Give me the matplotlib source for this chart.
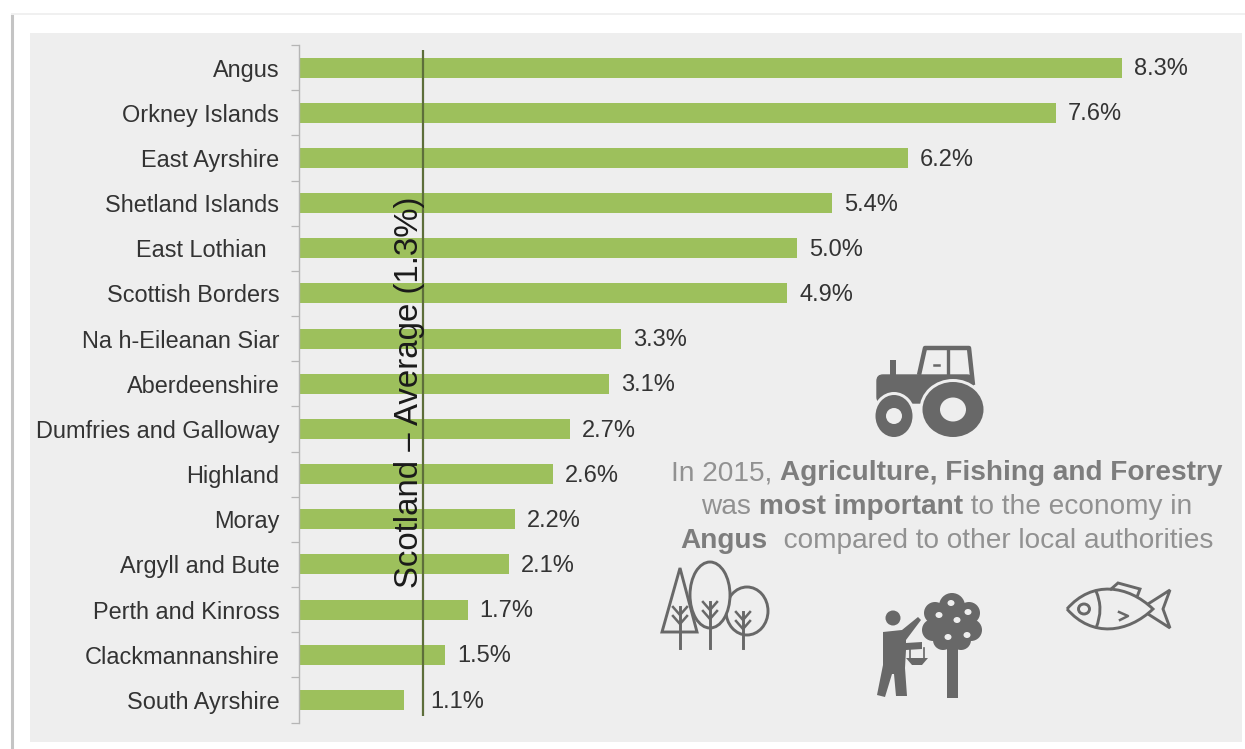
import matplotlib
matplotlib.use('Agg')
import matplotlib.pyplot as plt
from matplotlib.patches import Ellipse, Polygon, PathPatch, Rectangle, FancyBboxPatch
from matplotlib.path import Path

plt.rcParams['font.family'] = ['Liberation Sans', 'DejaVu Sans']

areas = ['Angus', 'Orkney Islands', 'East Ayrshire', 'Shetland Islands', 'East Lothian  ',
         'Scottish Borders', 'Na h-Eileanan Siar', 'Aberdeenshire', 'Dumfries and Galloway',
         'Highland', 'Moray', 'Argyll and Bute', 'Perth and Kinross', 'Clackmannanshire',
         'South Ayrshire']
# bar lengths as measured, the printed labels are rounded
shares = [8.3, 7.63, 6.14, 5.37, 5.02, 4.92, 3.25, 3.13, 2.73, 2.56, 2.18, 2.12, 1.70, 1.47, 1.06]
share_labels = ['8.3%', '7.6%', '6.2%', '5.4%', '5.0%', '4.9%', '3.3%', '3.1%', '2.7%', '2.6%',
                '2.2%', '2.1%', '1.7%', '1.5%', '1.1%']
scotland_avg = 1.25
avg_label = 'Scotland – Average (1.3%)'

W, H = 1245, 749
GREEN = '#9dc05c'
TEXT = '#333333'
ICON = '#686868'
PANEL = '#eeeeee'
PX_PER_UNIT = 99.2

fig = plt.figure(figsize=(W / 100, H / 100), dpi=100, facecolor='white')

# background layer in pixel coordinates
bg = fig.add_axes([0, 0, 1, 1], zorder=0)
bg.set_xlim(0, W)
bg.set_ylim(H, 0)
bg.axis('off')
bg.add_patch(Rectangle((30, 33), 1212, 709, fc=PANEL, ec='none'))
bg.plot([12, 12], [14, H], color='#c4c4c4', lw=2.2, solid_capstyle='butt')
bg.plot([12, W], [14, 14], color='#f0f0f0', lw=1.4)

# chart
left, right, top, bottom = 299, 1199, 45, 722.5
ax = fig.add_axes([left / W, 1 - bottom / H, (right - left) / W, (bottom - top) / H], zorder=1)
ax.patch.set_alpha(0)
ypos = list(range(len(areas)))
ax.barh(ypos, shares, height=0.44, color=GREEN)
ax.set_xlim(0, (right - left) / PX_PER_UNIT)
ax.set_ylim(len(areas) - 0.5, -0.5)
for s in ['top', 'right', 'bottom']:
    ax.spines[s].set_visible(False)
ax.spines['left'].set_color('#b5b5b5')
ax.spines['left'].set_linewidth(1.0)
ax.set_xticks([])
ax.set_yticks(ypos)
ax.set_yticklabels(areas, fontsize=16.9, color=TEXT)
ax.tick_params(axis='y', which='major', length=0, pad=14.2)
ax.set_yticks([y - 0.5 for y in ypos] + [len(areas) - 0.5], minor=True)
ax.tick_params(axis='y', which='minor', length=6, width=0.9, color='#b5b5b5')

ax.vlines(scotland_avg, -0.4, 14.36, color='#5d6e3a', lw=1.6, zorder=3)
for y, v, lab in zip(ypos, shares, share_labels):
    # the label moves past the average line when the bar stops short of it
    if v < scotland_avg:
        xv, off = scotland_avg, 7
    else:
        xv, off = v, 12
    ax.annotate(lab, (xv, y), xytext=(off * 0.72, -1.2), textcoords='offset points',
                va='center', ha='left', fontsize=17, color=TEXT)
ax.annotate(avg_label, (scotland_avg, 7.19), xytext=(-10, 0), textcoords='offset points',
            rotation=90, ha='center', va='center', fontsize=23.8, color='#1a1a1a', zorder=4)

# call-out text, runs of regular and bold set line by line
ov = fig.add_axes([0, 0, 1, 1], zorder=2)
ov.set_xlim(0, W)
ov.set_ylim(H, 0)
ov.axis('off')
lines = [
    (473.5, [('In 2015, ', False), ('Agriculture, Fishing and Forestry', True)]),
    (507.5, [('was ', False), ('most important', True), (' to the economy in', False)]),
    (540.5, [('Angus', True), ('  compared to other local authorities', False)]),
]
fig.canvas.draw()
rend = fig.canvas.get_renderer()
CENTER_X = 947
for y, runs in lines:
    items = []
    for s, b in runs:
        t = ov.text(0, y, s.replace(' ', '\u00a0'), fontsize=20.2, va='center', ha='left',
                    color='#919191' if not b else '#7d7d7d', fontweight='bold' if b else 'normal')
        items.append((t, t.get_window_extent(rend).width))
    x = CENTER_X - sum(w for _, w in items) / 2
    for t, w in items:
        t.set_x(x)
        x += w

# tractor
for cx, cy, rx, ry, ix, iy in [(953, 409.5, 30.5, 27.5, 13, 12), (894, 416, 18.5, 21, 8, 8)]:
    ov.add_patch(Ellipse((cx, cy), rx * 2 + 6, ry * 2 + 6, fc=PANEL, ec='none', zorder=3))
    ov.add_patch(Ellipse((cx, cy), rx * 2, ry * 2, fc=ICON, ec='none', zorder=4))
    ov.add_patch(Ellipse((cx, cy), ix * 2, iy * 2, fc=PANEL, ec='none', zorder=5))
ov.add_patch(FancyBboxPatch((877, 375), 96, 28, boxstyle='round,pad=0,rounding_size=6', fc=ICON, ec=ICON,
                            lw=1, zorder=2))
ov.add_patch(Rectangle((890, 360), 6, 18, fc=ICON, ec='none', zorder=2))
ov.add_patch(Polygon([(919, 375), (925, 348), (969, 348), (973, 385)], closed=False, fc='none', ec=ICON,
                     lw=3.2, joinstyle='round', zorder=2))
ov.plot([948, 948], [349, 376], color=ICON, lw=2.4, zorder=2)
ov.plot([934, 939], [365, 365], color=ICON, lw=1.8, zorder=2)

# trees
OUT = dict(fc='none', ec=ICON, lw=2.1)
ov.add_patch(Polygon([(680, 568), (662, 632), (697, 632)], closed=True, **OUT))
ov.add_patch(Ellipse((710, 595), 40, 66, fc=PANEL, ec=ICON, lw=2.1, zorder=3))
ov.add_patch(Ellipse((747, 611), 42, 48, fc='none', ec=ICON, lw=2.1, zorder=2))
for tx, t0, t1 in [(680, 607, 648), (710, 602, 648), (743, 612, 648)]:
    ov.plot([tx, tx], [t0, t1], color=ICON, lw=2.1, zorder=4)
    for d in (0, 9):
        ov.plot([tx - 7, tx, tx + 7], [t0 + d, t0 + d + 8, t0 + d], color=ICON, lw=1.8, zorder=4)

# fruit picker
ov.add_patch(Rectangle((947, 640), 11, 58, fc=ICON, ec='none'))
for cx, cy, r in [(952, 606, 13), (935, 613, 11), (969, 613, 11), (933, 630, 11), (971, 630, 11),
                  (952, 622, 18), (943, 640, 10), (961, 640, 10)]:
    ov.add_patch(Ellipse((cx, cy), r * 2, r * 2, fc=ICON, ec='none'))
for cx, cy in [(951, 603), (939, 615), (968, 612), (957, 620), (948, 637), (967, 635)]:
    ov.add_patch(Ellipse((cx, cy), 7, 6, fc=PANEL, ec='none', zorder=3))
ov.add_patch(Ellipse((893, 618), 15, 15, fc=ICON, ec='none'))
ov.add_patch(Polygon([(883, 632), (902, 630), (918, 617), (921, 620), (906, 640), (906, 643), (922, 642),
                      (922, 649), (906, 650), (905, 668), (907, 696), (896, 696), (894, 674), (892, 674),
                      (885, 697), (877, 695), (883, 665)], closed=True, fc=ICON, ec='none'))
ov.add_patch(Polygon([(906, 658), (928, 658), (922, 665), (912, 665)], closed=True, fc=ICON, ec='none'))
ov.plot([910, 910], [648, 658], color=ICON, lw=1.2)
ov.plot([924, 924], [648, 658], color=ICON, lw=1.2)

# fish
verts = [(1067, 609), (1092, 580), (1128, 585), (1153, 609), (1128, 633), (1092, 638), (1067, 609)]
codes = [Path.MOVETO, Path.CURVE4, Path.CURVE4, Path.CURVE4, Path.CURVE4, Path.CURVE4, Path.CURVE4]
ov.add_patch(PathPatch(Path(verts, codes), **OUT))
ov.add_patch(Polygon([(1148, 604), (1170, 590), (1163, 609), (1170, 628), (1148, 614)], closed=False, **OUT))
ov.add_patch(Polygon([(1110, 590), (1118, 583), (1140, 589), (1137, 597)], closed=False, **OUT))
ov.add_patch(Ellipse((1084, 609), 11, 10, **OUT))
ov.add_patch(PathPatch(Path([(1096, 591), (1104, 609), (1096, 628)], [Path.MOVETO, Path.CURVE3, Path.CURVE3]), **OUT))
ov.plot([1119, 1128, 1120], [612, 616, 620], color=ICON, lw=1.8)

fig.savefig('out.png', dpi=100, facecolor='white')
